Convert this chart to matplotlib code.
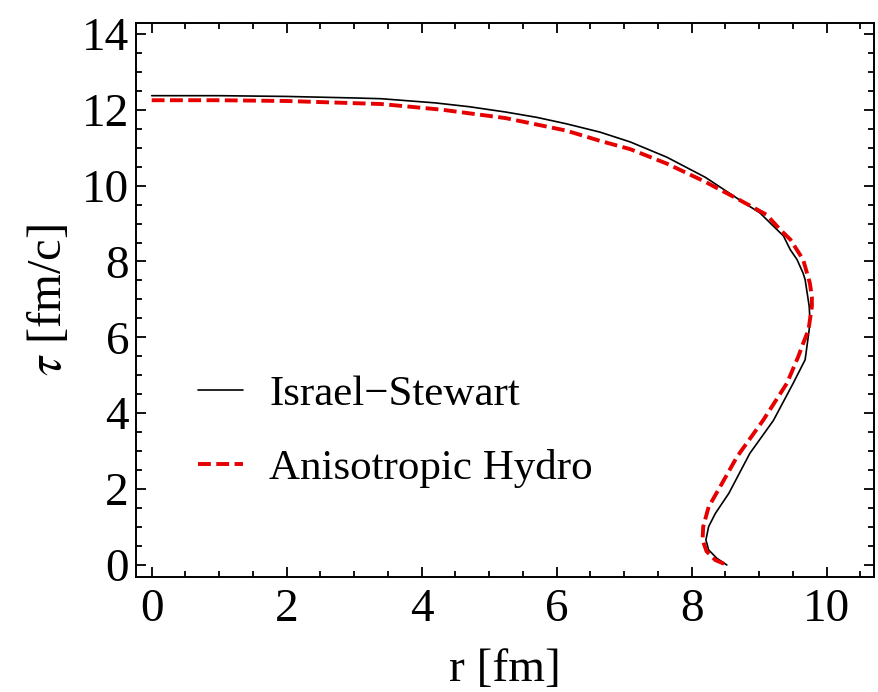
import matplotlib
matplotlib.use("Agg")
import matplotlib.pyplot as plt
from matplotlib.ticker import MultipleLocator

# Israel-Stewart freeze-out curve (r [fm], tau [fm/c])
is_r = [0.0, 1.0, 2.0, 3.0, 3.4, 4.2, 4.7, 5.24, 5.7, 6.14, 6.64, 7.09, 7.63, 8.2,
        8.72, 9.01, 9.36, 9.46, 9.56, 9.65, 9.68, 9.74, 9.75, 9.74, 9.68, 9.5,
        9.21, 8.86, 8.55, 8.35, 8.25, 8.21, 8.25, 8.37, 8.52]
is_tau = [12.37, 12.37, 12.35, 12.31, 12.29, 12.18, 12.08, 11.94, 11.8, 11.63, 11.41,
          11.15, 10.75, 10.22, 9.61, 9.28, 8.67, 8.31, 8.05, 7.69, 7.52, 6.82, 6.5,
          6.2, 5.41, 4.78, 3.81, 2.94, 1.89, 1.36, 1.01, 0.66, 0.4, 0.18, 0.0]

# Anisotropic hydro freeze-out curve
ah_r = [0.0, 1.0, 2.0, 3.4, 4.3, 5.24, 6.14, 6.64, 7.09, 7.63, 8.2, 8.72, 9.11,
        9.31, 9.46, 9.65, 9.75, 9.78, 9.78, 9.73, 9.65, 9.58, 9.41, 9.06, 8.67,
        8.42, 8.25, 8.17, 8.16, 8.22, 8.35, 8.52]
ah_tau = [12.25, 12.25, 12.23, 12.15, 12.0, 11.78, 11.45, 11.18, 10.96, 10.58, 10.1,
          9.61, 9.23, 8.84, 8.58, 8.05, 7.43, 7.07, 6.82, 6.2, 5.84, 5.5, 4.79,
          3.82, 2.85, 2.06, 1.53, 1.01, 0.66, 0.36, 0.13, 0.0]

labels = ["Israel\u2212Stewart", "Anisotropic Hydro"]

plt.rcParams['font.family'] = ['Liberation Serif', 'DejaVu Serif']
plt.rcParams['mathtext.fontset'] = 'stix'

fig = plt.figure(figsize=(8.79, 6.92), dpi=100)
ax = fig.add_axes([0.1547, 0.1662, 0.9943 - 0.1547, 0.967 - 0.1662])

ax.plot(is_r, is_tau, color='black', lw=1.2, label=labels[0],
        solid_joinstyle='round', solid_capstyle='round')
ax.plot(ah_r, ah_tau, color='#e60000', lw=2.8, linestyle=(0, (3.3, 1.4)),
        label=labels[1], dash_joinstyle='round')

ax.set_xlim(-0.233, 10.70)
ax.set_ylim(-0.316, 14.29)
ax.xaxis.set_major_locator(MultipleLocator(2))
ax.xaxis.set_minor_locator(MultipleLocator(0.5))
ax.yaxis.set_major_locator(MultipleLocator(2))
ax.yaxis.set_minor_locator(MultipleLocator(0.5))
ax.tick_params(which='both', direction='in', top=True, right=True, width=1.3)
ax.tick_params(which='major', length=7)
ax.tick_params(which='minor', length=4)
ax.tick_params(axis='x', which='major', labelsize=34, pad=8)
ax.tick_params(axis='y', which='major', labelsize=34, pad=5)
for s in ax.spines.values():
    s.set_linewidth(1.4)

ax.set_xlabel("r [fm]", fontsize=34, labelpad=13)
ax.set_ylabel("$\\tau$ [fm/c]", fontsize=35, labelpad=8)

leg = ax.legend(loc='center left', bbox_to_anchor=(0.084, 0.2625), frameon=False,
                fontsize=31, handlelength=1.05, handletextpad=0.6, labelspacing=0.8,
                borderpad=0, borderaxespad=0)

fig.savefig("out.png", dpi=100)
